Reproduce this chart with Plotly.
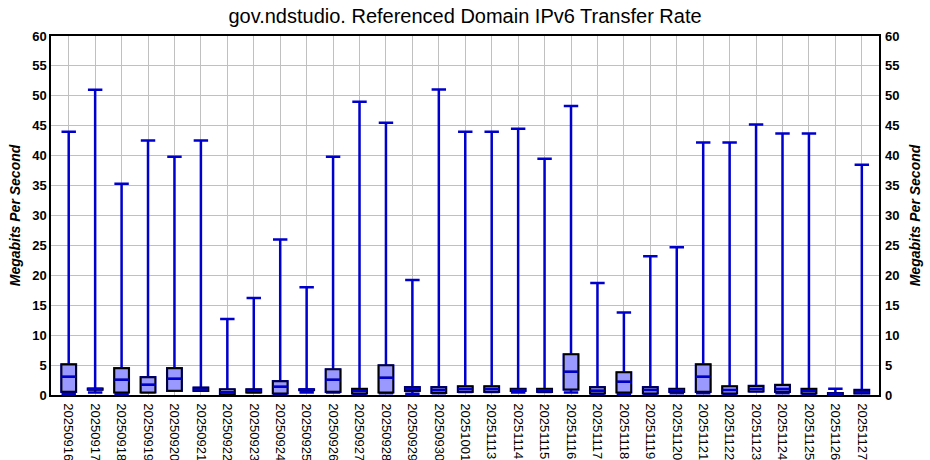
import plotly.graph_objects as go

dates = ["20250916", "20250917", "20250918", "20250919", "20250920", "20250921",
         "20250922", "20250923", "20250924", "20250925", "20250926", "20250927",
         "20250928", "20250929", "20250930", "20251001", "20251113", "20251114",
         "20251115", "20251116", "20251117", "20251118", "20251119", "20251120",
         "20251121", "20251122", "20251123", "20251124", "20251125", "20251126",
         "20251127"]
lower = [0.2, 0.4, 0.2, 0.4, 0.7, 0.7, 0.1, 0.4, 0.2, 0.4, 0.4, 0.2,
         0.3, 0.2, 0.3, 0.5, 0.5, 0.4, 0.5, 0.4, 0.1, 0.1, 0.2, 0.28,
         0.3, 0.2, 0.6, 0.28, 0.2, 0.1, 0.28]
q1 = [0.55, 0.9, 0.44, 0.44, 0.72, 0.72, 0.11, 0.44, 0.28, 0.85, 0.55, 0.28,
      0.44, 0.72, 0.39, 0.55, 0.55, 0.72, 0.55, 0.94, 0.28, 0.44, 0.28, 0.55,
      0.55, 0.28, 0.61, 0.55, 0.28, 0.15, 0.28]
median = [3.05, 1.0, 2.55, 1.72, 2.72, 0.94, 0.44, 0.7, 1.39, 0.9, 2.55, 0.72,
          2.89, 1.0, 0.83, 1.0, 1.0, 0.83, 0.8, 3.89, 0.72, 2.22, 0.83, 0.83,
          3.05, 0.83, 1.0, 1.0, 0.72, 0.22, 0.55]
q3 = [5.1, 1.05, 4.45, 2.95, 4.45, 1.22, 0.94, 0.94, 2.28, 0.94, 4.28, 1.0,
      4.95, 1.28, 1.28, 1.44, 1.44, 1.0, 1.0, 6.78, 1.28, 3.78, 1.28, 1.0,
      5.1, 1.44, 1.5, 1.67, 1.0, 0.3, 0.83]
upper = [44.0, 51.0, 35.3, 42.55, 39.8, 42.55, 12.7, 16.2, 26.0, 18.0, 39.8, 49.0,
         45.5, 19.2, 51.05, 44.0, 44.0, 44.5, 39.5, 48.3, 18.7, 13.8, 23.2, 24.7,
         42.2, 42.2, 45.2, 43.7, 43.7, 1.05, 38.5]

title_text = "gov.ndstudio. Referenced Domain IPv6 Transfer Rate"
y_title = "Megabits Per Second"

BLUE = "#0000cc"
FILL = "#9999ff"
FONT = "Liberation Sans, Arial, sans-serif"

fig = go.Figure()
# whiskers (blue)
fig.add_trace(go.Box(x=dates, q1=q1, median=median, q3=q3,
                     lowerfence=lower, upperfence=upper,
                     line=dict(color=BLUE, width=2.5), fillcolor="rgba(0,0,0,0)",
                     whiskerwidth=1, boxpoints=False, showlegend=False,
                     hoverinfo="skip"))
# box body (black outline, light fill)
fig.add_trace(go.Box(x=dates, q1=q1, median=median, q3=q3,
                     lowerfence=q1, upperfence=q3,
                     line=dict(color="black", width=1.8), fillcolor=FILL,
                     whiskerwidth=1, boxpoints=False, showlegend=False,
                     hoverinfo="skip"))
# median line (blue)
fig.add_trace(go.Box(x=dates, q1=median, median=median, q3=median,
                     lowerfence=median, upperfence=median,
                     line=dict(color=BLUE, width=2.5), fillcolor="rgba(0,0,0,0)",
                     whiskerwidth=1, boxpoints=False, showlegend=False,
                     hoverinfo="skip"))
# invisible trace for right axis
fig.add_trace(go.Scatter(x=[dates[0]], y=[0], yaxis="y2", mode="markers",
                         marker=dict(opacity=0), showlegend=False, hoverinfo="skip"))

fig.update_layout(
    width=930, height=460,
    margin=dict(l=51, r=51, t=36, b=65),
    paper_bgcolor="white", plot_bgcolor="white",
    boxmode="overlay", boxgap=0.22,
    font=dict(family=FONT, color="black"),
    title=dict(text=title_text, x=0.5, xanchor="center", y=1 - 16 / 460,
               yanchor="middle", yref="container",
               font=dict(size=20, family=FONT, color="black")),
    xaxis=dict(type="category", range=[-0.67, 30.65], tickangle=90,
               tickfont=dict(size=13, family=FONT, color="black"),
               ticklabelstandoff=4,
               showgrid=True, gridcolor="#c0c0c0", gridwidth=1,
               showline=True, linecolor="black", linewidth=1.5, mirror=True,
               ticks="", automargin=False, zeroline=False),
    yaxis=dict(range=[0, 60], dtick=5, showgrid=True, gridcolor="#c0c0c0",
               gridwidth=1, showline=True, linecolor="black", linewidth=1.5,
               mirror=True, ticks="", zeroline=False, automargin=False,
               tickfont=dict(size=13, family=FONT, color="black", weight="bold"),
               title=dict(text=y_title, standoff=8,
                          font=dict(size=14, family=FONT, color="black",
                                    weight="bold", style="italic"))),
    yaxis2=dict(range=[0, 60], dtick=5, overlaying="y", side="right",
                showgrid=False, ticks="", zeroline=False, automargin=False,
                ticklabelstandoff=5,
                tickfont=dict(size=13, family=FONT, color="black", weight="bold"),
                title=dict(text=y_title, standoff=11,
                           font=dict(size=14, family=FONT, color="black",
                                     weight="bold", style="italic"))),
)

fig.write_html("out.html", config={"displayModeBar": False},
               post_script="document.body.style.margin='0';document.body.style.overflow='hidden';")
